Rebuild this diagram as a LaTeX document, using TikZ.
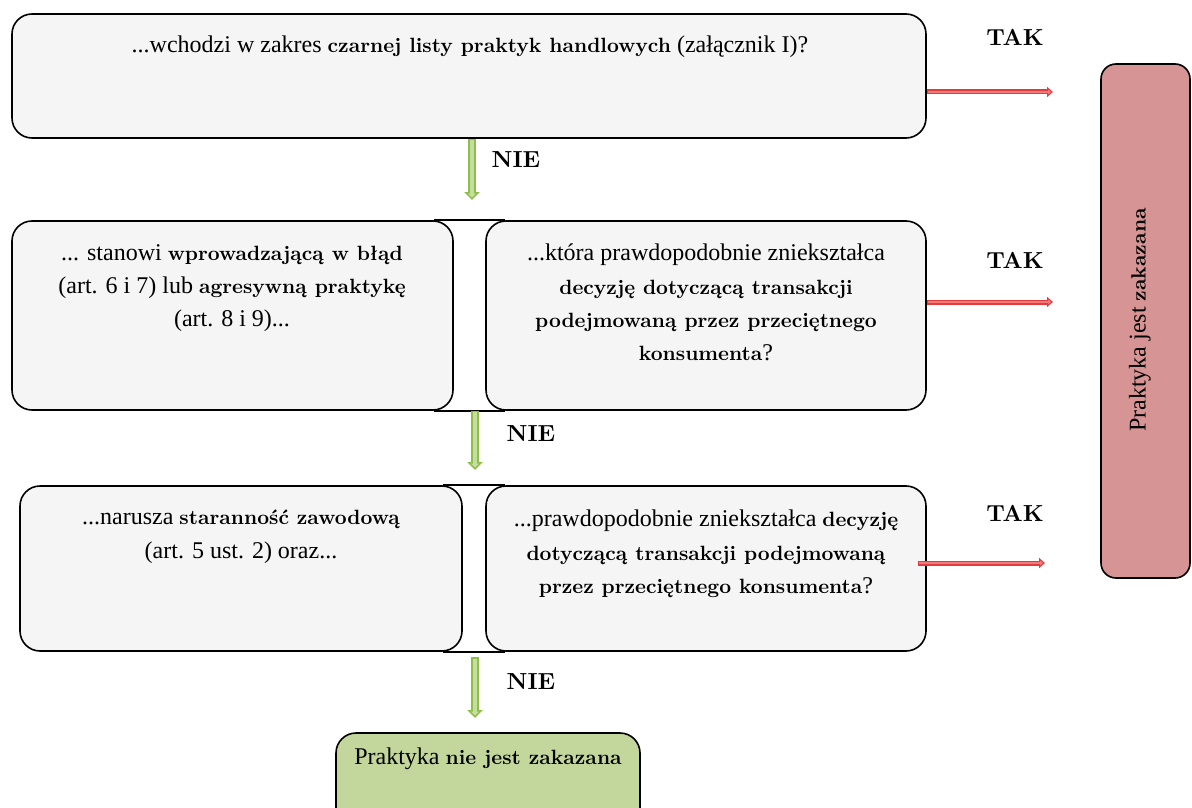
\documentclass[tikz,border=0pt]{standalone}
\usepackage{fontspec}
\setmainfont{Liberation Serif}
\newfontfamily\heavyserif{lmroman10-bold.otf}[Scale=0.86]
\newcommand{\hv}[1]{{\heavyserif #1}}
\usetikzlibrary{arrows.meta}
\definecolor{boxgray}{HTML}{F4F5F4}
\definecolor{okgreen}{HTML}{C3D69B}
\definecolor{badred}{HTML}{D69594}
\definecolor{gborder}{HTML}{8DBE45}
\definecolor{glight}{HTML}{C6DDA2}
\definecolor{rborder}{HTML}{E63B3E}
\definecolor{rlight}{HTML}{F27A7A}
\begin{document}
\begin{tikzpicture}[x=1pt,y=-1pt,
  box/.style={draw=black, line width=1.6pt, rounded corners=20pt, fill=boxgray, inner sep=0pt},
  txt/.style={anchor=north, align=center, inner sep=0pt, font=\fontsize{24}{33.3}\selectfont},
  lbl/.style={font=\fontsize{27}{30}\selectfont\heavyserif, inner sep=0pt},
  joinline/.style={draw=black, line width=1.6pt},
  greenarrow/.style={line width=8pt, draw=gborder, -{Triangle[length=8pt 0 0,width=15pt 0 0]},
    postaction={draw=glight, line width=4pt, -{Triangle[length=4pt 0 0,width=8pt 0 0]}, shorten >=2.5pt, shorten <=1.5pt}},
  redarrow/.style={line width=5pt, draw=rborder, -{Triangle[length=6pt 0 0,width=10pt 0 0]},
    postaction={draw=rlight, line width=2pt, -{Triangle[length=3pt 0 0,width=4.5pt 0 0]}, shorten >=1.8pt, shorten <=1pt}}
]
\useasboundingbox (0,0) rectangle (1192,808);
\clip (0,0) rectangle (1192,808);

% boxes
\node[box, minimum width=914pt, minimum height=124pt] (top) at (469,76) {};
\node[box, minimum width=441pt, minimum height=189pt] (L2) at (232.5,315.5) {};
\node[box, minimum width=440pt, minimum height=189pt] (R2) at (706,315.5) {};
\node[box, minimum width=442pt, minimum height=165pt] (L3) at (241,568.5) {};
\node[box, minimum width=440pt, minimum height=165pt] (R3) at (706,568.5) {};
\node[box, fill=okgreen, minimum width=304pt, minimum height=95pt] (ok) at (488,780.5) {};
\node[box, fill=badred, rounded corners=15pt, minimum width=89pt, minimum height=514pt] (bad) at (1145.5,321) {};

% joining lines of the paired boxes
\draw[joinline] ([xshift=-20pt]L2.north east) -- ([xshift=20pt]R2.north west);
\draw[joinline] ([xshift=-20pt]L2.south east) -- ([xshift=20pt]R2.south west);
\draw[joinline] ([xshift=-20pt]L3.north east) -- ([xshift=20pt]R3.north west);
\draw[joinline] ([xshift=-20pt]L3.south east) -- ([xshift=20pt]R3.south west);

% texts
\node[txt] (ttop) at (470,36) {...wchodzi w zakres \hv{czarnej listy praktyk handlowych} (załącznik I)?};
\node[txt] (tL2) at (232,244) {... stanowi \hv{wprowadzającą w błąd}\\(art. 6 i 7) lub \hv{agresywną praktykę}\\(art. 8 i 9)...};
\node[txt] (tR2) at (706,244) {...która prawdopodobnie zniekształca\\\hv{decyzję dotyczącą transakcji}\\\hv{podejmowaną przez przeciętnego}\\\hv{konsumenta}?};
\node[txt] (tL3) at (241,510) {...narusza \hv{staranność zawodową}\\(art. 5 ust. 2) oraz...};
\node[txt] (tR3) at (706,510) {...prawdopodobnie zniekształca \hv{decyzję}\\\hv{dotyczącą transakcji podejmowaną}\\\hv{przez przeciętnego konsumenta}?};
\node[txt] (tok) at (488,748) {Praktyka \hv{nie jest zakazana}};
\node[txt, anchor=center, rotate=90] (tbad) at (1140,320) {Praktyka jest \hv{zakazana}};

% labels
\node[lbl] (tak1) at (1015,37) {TAK};
\node[lbl] (tak2) at (1015,260) {TAK};
\node[lbl] (tak3) at (1015,513) {TAK};
\node[lbl] (nie1) at (516,160) {NIE};
\node[lbl] (nie2) at (531,434) {NIE};
\node[lbl] (nie3) at (531,682) {NIE};

% arrow ends
\coordinate (r1) at (1053,92);
\coordinate (r2) at (1053,302);
\coordinate (r3) at (1045,563);
\coordinate (r3s) at (918,563);
\coordinate (g1) at (472,200);
\coordinate (g2) at (475,470);
\coordinate (g3) at (475,718);
\coordinate (g3s) at (475,657);

\draw[redarrow] (top.east |- r1) -- (r1);
\draw[redarrow] (R2.east |- r2) -- (r2);
\draw[redarrow] (r3s) -- (r3);
\draw[greenarrow] (g1 |- top.south) -- (g1);
\draw[greenarrow] (g2 |- L2.south) -- (g2);
\draw[greenarrow] (g3s) -- (g3);
\end{tikzpicture}
\end{document}
